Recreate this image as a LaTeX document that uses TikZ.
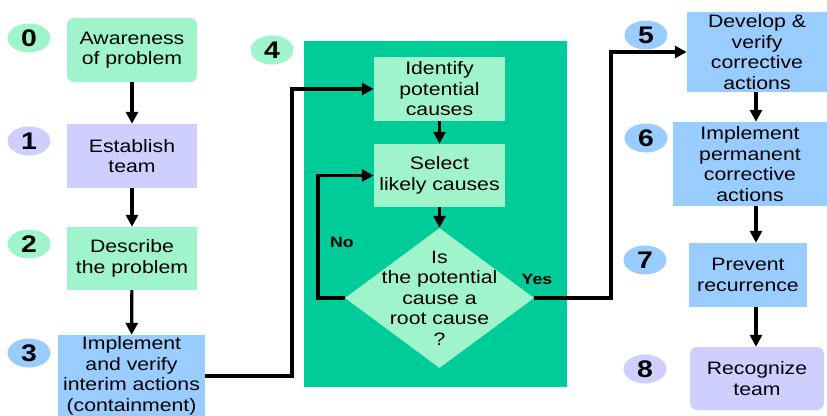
\documentclass[tikz,border=0pt]{standalone}
\usepackage{fontspec}
\setmainfont{Liberation Sans}[FakeStretch=1.18]
\usetikzlibrary{shapes.geometric,arrows.meta}
\definecolor{mint}{RGB}{160,244,204}
\definecolor{lav}{RGB}{206,206,255}
\definecolor{lblue}{RGB}{153,204,255}
\definecolor{tealbg}{RGB}{0,204,153}
\begin{document}
\begin{tikzpicture}[x=1pt,y=-1pt,
  box/.style={inner sep=0pt, align=center, font=\fontsize{18}{20.5}\selectfont},
  badge/.style={ellipse, minimum width=43pt, minimum height=29pt, inner sep=0pt, font=\fontsize{24}{24}\selectfont\bfseries},
  arr/.style={line width=3.2pt, line join=miter, -{Triangle[length=12pt,width=12pt]}},
  lbl/.style={font=\fontsize{15}{15}\selectfont\bfseries}]
\clip (0,0) rectangle (827,415);
\fill[white] (0,0) rectangle (827,415);

% left column
\node[badge, fill=mint] (n0) at (29,38) {0};
\node[box, fill=mint, rounded corners=7pt, minimum width=130pt, minimum height=64pt] (b0) at (132,50) {Awareness\\of problem};
\node[badge, fill=lav] (n1) at (29,141) {1};
\node[box, fill=lav, minimum width=130pt, minimum height=64pt] (b1) at (132,156) {Establish\\team};
\node[badge, fill=mint] (n2) at (29,244) {2};
\node[box, fill=mint, minimum width=130pt, minimum height=63pt] (b2) at (132,258.5) {Describe\\the problem};
\node[badge, fill=lblue] (n3) at (29,353) {3};
\node[box, fill=lblue, minimum width=147pt, minimum height=82pt] (b3) at (131.5,376) {Implement\\and verify\\interim actions\\(containment)};

\draw[arr] (b0) -- (b1);
\draw[arr] (b1) -- (b2);
\draw[arr] (b2) -- (b3);

% step 4
\node[badge, fill=mint] (n4) at (272,50) {4};
\node[fill=tealbg, minimum width=263pt, minimum height=346pt, inner sep=0pt] (big) at (435.5,214) {};
\node[box, fill=mint, minimum width=131pt, minimum height=64pt] (ident) at (439.5,89) {Identify\\potential\\causes};
\node[box, fill=mint, minimum width=131pt, minimum height=63pt] (sel) at (439.5,175.5) {Select\\likely causes};
\node[diamond, fill=mint, minimum width=189pt, minimum height=140pt, inner sep=0pt] (dia) at (439.5,298) {};
\node[box] (diat) at (dia) {Is\\the potential\\cause a\\root cause\\?};
\node[lbl] (no) at (342,242) {No};
\node[lbl] (yes) at (537,279) {Yes};

\coordinate (j1) at (292,0);
\coordinate (j2) at (318,0);
\coordinate (j3) at (611,0);
\draw[arr] (b3.east) -- (b3.east -| j1) -- (ident.west -| j1) -- (ident.west);
\draw[arr] (ident) -- (sel);
\draw[arr] (sel) -- (dia);
\draw[arr] (dia.west) -- (dia.west -| j2) -- (sel.west -| j2) -- (sel.west);

% right column
\node[badge, fill=lblue] (n5) at (646,35) {5};
\node[box, fill=lblue, minimum width=140pt, minimum height=80pt] (b5) at (757,52) {Develop \&\\verify\\corrective\\actions};
\node[badge, fill=lblue] (n6) at (646,138) {6};
\node[box, fill=lblue, minimum width=154pt, minimum height=84pt] (b6) at (750,164) {Implement\\permanent\\corrective\\actions};
\node[badge, fill=lblue] (n7) at (645,260) {7};
\node[box, fill=lblue, minimum width=118pt, minimum height=64pt] (b7) at (748,275) {Prevent\\recurrence};
\node[badge, fill=lav] (n8) at (645,369) {8};
\node[box, fill=lav, rounded corners=7pt, minimum width=134pt, minimum height=63pt] (b8) at (757,378.5) {Recognize\\team};

\draw[arr] (dia.east) -- (dia.east -| j3) -- (b5.west -| j3) -- (b5.west);
\coordinate (rc) at (756,0);
\draw[arr] (b5.south -| rc) -- (b6.north -| rc);
\draw[arr] (b6.south -| rc) -- (b7.north -| rc);
\draw[arr] (b7.south -| rc) -- (b8.north -| rc);
\end{tikzpicture}
\end{document}
